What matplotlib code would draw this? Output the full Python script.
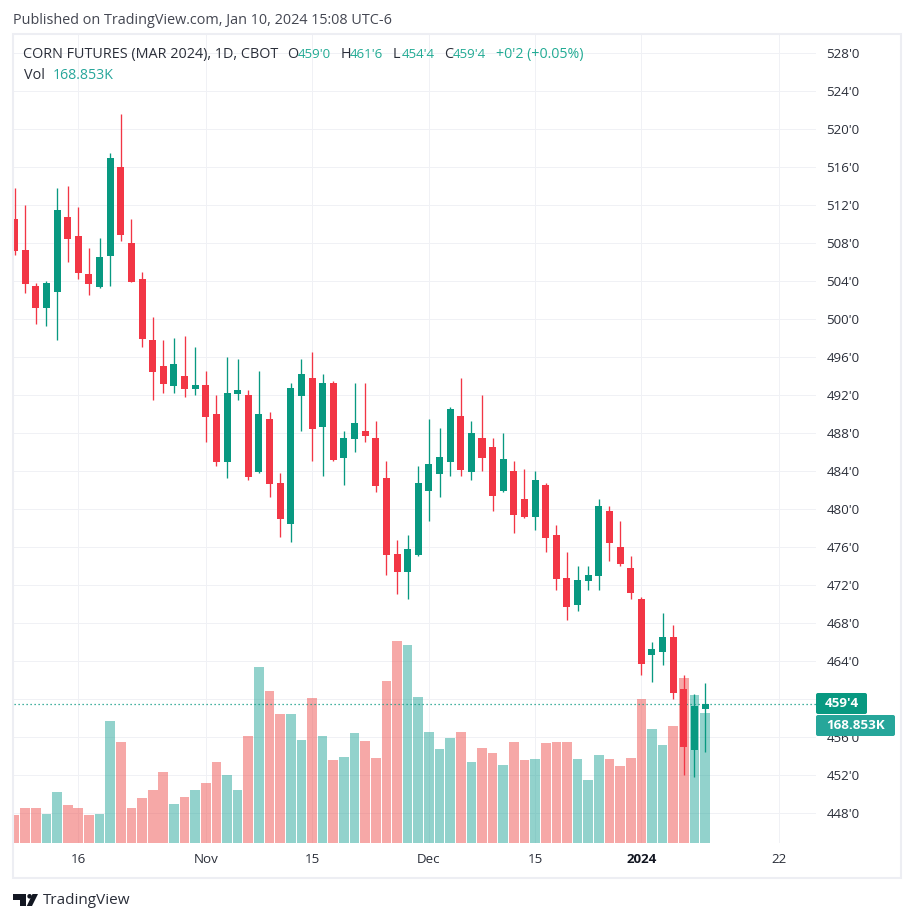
import matplotlib
matplotlib.use("Agg")
import matplotlib.pyplot as plt
from matplotlib.patches import FancyBboxPatch, Rectangle, Polygon, Circle
from matplotlib.transforms import IdentityTransform

opens = [510.58,507.32,503.53,501.21,502.89,510.79,508.79,504.79,503.42,506.68,516.05,508.05,504.26,497.84,495.11,493.0,494.05,492.68,
         493.11,490.05,485.0,492.16,492.05,483.95,489.53,482.79,478.47,491.95,493.84,488.68,493.32,485.42,487.42,488.26,487.52,483.31,
         475.31,473.42,475.21,481.95,483.73,485.0,489.84,483.94,487.52,486.58,481.95,484.05,481.10,479.21,482.58,477.32,472.79,469.95,
         472.47,473.0,479.84,476.05,473.84,470.58,464.68,465.0,466.58,461.11,454.68,459.0]
closes = [507.21,503.74,501.21,503.84,511.53,508.47,504.89,503.74,506.58,517.0,508.89,503.95,497.95,494.47,493.21,495.32,492.68,493.11,
          489.74,485.0,492.26,492.58,483.42,490.05,482.68,479.0,492.79,494.26,488.47,493.32,485.21,487.52,489.10,487.73,482.47,475.21,
          473.42,475.84,482.79,484.79,485.52,490.58,484.16,488.05,485.42,481.42,485.31,479.42,479.21,483.10,477.0,472.68,469.74,472.58,
          473.11,480.37,476.47,474.26,471.21,463.74,465.32,466.58,460.68,455.0,459.32,459.5]
highs = [513.81,512.05,503.81,504.05,513.81,514.05,511.84,507.53,508.58,517.53,521.63,510.58,505.0,500.26,497.84,498.05,498.26,497.11,
         494.58,492.05,496.05,495.84,492.58,494.58,490.26,483.84,493.32,495.84,496.58,494.26,493.52,488.26,493.32,493.32,489.31,485.11,
         476.79,477.31,484.58,489.52,488.58,490.79,493.84,489.31,492.05,487.52,488.05,485.11,484.26,484.05,482.79,478.37,475.53,474.05,
         474.05,481.11,480.37,478.79,475.11,470.79,466.05,469.11,467.84,462.58,460.58,461.75]
lows = [506.79,502.79,499.53,499.32,497.84,506.05,504.26,502.58,503.32,503.53,508.26,503.95,497.11,491.53,492.26,492.26,491.84,492.05,
        487.11,484.58,483.32,491.53,483.11,483.84,481.32,477.11,476.58,488.26,485.11,483.53,485.11,482.58,486.05,487.10,481.84,473.10,
        471.10,470.58,475.10,478.79,481.31,483.52,483.52,483.10,484.05,479.84,481.84,477.52,479.10,477.84,475.53,471.53,468.37,469.32,
        471.53,471.53,474.58,474.05,470.58,462.58,461.84,463.63,460.05,452.05,451.84,454.5]
volumes_k = [36.4,45.5,45.5,37.7,66.2,49.4,45.5,36.4,37.7,158.5,131.2,45.5,58.5,68.8,92.2,50.7,59.8,68.8,77.9,105.2,88.3,68.8,139.0,228.6,
             197.4,167.6,167.6,133.8,188.3,139.0,107.8,111.7,142.9,132.5,110.4,210.4,262.4,257.2,189.6,144.2,122.1,136.4,144.2,105.2,123.4,
             116.9,101.3,131.2,107.8,109.1,129.9,131.2,131.2,109.1,81.8,114.3,109.1,100.0,110.4,187.0,148.1,127.3,152.0,214.3,192.2,168.853]
price_ticks = list(range(448, 532, 4))
hidden_price_label = 460  # covered by the last-price tag in the reference
time_tick_pos = [6, 18, 28, 39, 49, 59, 72]
time_tick_labels = ["16", "Nov", "15", "Dec", "15", "2024", "22"]

FONT = "Open Sans"
UP, DOWN = "#089981", "#F23645"
VOL_UP, VOL_DOWN = "#26A69A", "#EF5350"
GRID = "#F0F1F5"
TXT = "#2A2E39"
W, H = 914, 922
FS = 9.6
FS_WIDE = 10.35

plt.rcParams["font.family"] = [FONT, "DejaVu Sans"]
fig = plt.figure(figsize=(W / 100, H / 100), dpi=100, facecolor="white")
L, R, T, B = 14, 816, 35, 843
rect = [L / W, 1 - B / H, (R - L) / W, (B - T) / H]
xlim = (-0.053, 75.44)
ylim = (444.87, 529.92)

base = fig.add_axes(rect)
base.set_xlim(*xlim)
base.set_ylim(*ylim)
for s in base.spines.values():
    s.set_visible(False)
base.set_yticks(price_ticks)
base.set_yticklabels(["" if p == hidden_price_label else f"{p}'0" for p in price_ticks],
                     fontsize=FS, color=TXT)
base.yaxis.tick_right()
base.set_xticks(time_tick_pos)
base.set_xticklabels(time_tick_labels, fontsize=FS, color=TXT)
base.get_xticklabels()[5].set_fontweight("bold")
base.get_xticklabels()[5].set_color("#131722")
base.tick_params(axis="both", length=0)
base.tick_params(axis="y", pad=7.5)
base.tick_params(axis="x", pad=7.5)
base.grid(True, color=GRID, lw=0.72)
base.set_axisbelow(True)

idx = list(range(len(closes)))
vol_ax = fig.add_axes(rect, sharex=base)
vol_ax.set_ylim(0, 1049.5)
vol_ax.axis("off")
vol_cols = [VOL_UP if c >= o else VOL_DOWN for o, c in zip(opens, closes)]
vol_ax.bar(idx, volumes_k, width=0.91, color=vol_cols, alpha=0.5, linewidth=0)
vol_ax.set_xlim(*xlim)

price = fig.add_axes(rect, sharex=base)
price.set_ylim(*ylim)
price.axis("off")
price.set_xlim(*xlim)
cols = [UP if c >= o else DOWN for o, c in zip(opens, closes)]
price.axhline(closes[-1], color=UP, lw=0.9, ls=(0, (1, 2.2)), zorder=1)
price.vlines(idx, lows, highs, color=cols, lw=0.95, zorder=2)
price.bar(idx, [abs(c - o) for o, c in zip(opens, closes)],
          bottom=[min(o, c) for o, c in zip(opens, closes)],
          width=0.66, color=cols, linewidth=0, zorder=3)

ident = IdentityTransform()


def ptext(x, y, s, color=TXT, ha="left", size=FS, **kw):
    return fig.text(x, H - y, s, color=color, ha=ha, va="center", fontsize=size,
                    transform=ident, zorder=21, **kw)


def tag(x0, x1, y0, y1, color, label):
    fig.add_artist(FancyBboxPatch((x0, H - y1), x1 - x0, y1 - y0,
                                  boxstyle="round,pad=0,rounding_size=2", fc=color, ec="none",
                                  transform=ident, zorder=20))
    ptext((x0 + x1) / 2, (y0 + y1) / 2, label, color="white", ha="center", fontweight="bold")


# Pane border
fig.add_artist(Rectangle((13, H - 878), 888, 844, fill=False, ec="#EDEEF3", lw=1.5,
                         transform=ident, zorder=15))

tag(816, 867, 693, 714, UP, "459'4")
tag(816, 895, 715, 736, VOL_UP, "168.853K")

ptext(13, 20, "Published on TradingView.com, Jan 10, 2024 15:08 UTC-6", color="#434651", size=FS_WIDE)
ptext(23, 54, "CORN FUTURES (MAR 2024), 1D, CBOT", color=TXT, size=FS_WIDE)
GL = "#22AB94"
for x, s, c, fs in [(287, "O", TXT, FS_WIDE), (298, "459'0", GL, FS), (341, "H", TXT, FS_WIDE),
                    (350, "461'6", GL, FS), (393, "L", TXT, FS_WIDE), (402, "454'4", GL, FS),
                    (444, "C", TXT, FS_WIDE), (453, "459'4", GL, FS),
                    (496, "+0'2 (+0.05%)", GL, FS_WIDE - 0.2)]:
    ptext(x, 54, s, color=c, size=fs)
ptext(24, 75, "Vol", color=TXT, size=FS_WIDE)
ptext(53, 75, "168.853K", color=VOL_UP, size=FS_WIDE - 0.2)

# TradingView logo
INK = "#131722"
for pts in ([(13.3, 894), (26, 894), (26, 906), (19.5, 906), (19.5, 900), (13.3, 900)],
            [(32.5, 894), (38, 894), (32, 906), (26.8, 906)]):
    fig.add_artist(Polygon([(a, H - b) for a, b in pts], closed=True, fc=INK, ec="none",
                           transform=ident, zorder=20))
fig.add_artist(Circle((29.6, H - 896.3), 2.3, fc=INK, ec="none", transform=ident, zorder=21))
ptext(43, 900, "TradingView", color="#2A2E39", size=11.0)

fig.savefig("out.png", dpi=100)
